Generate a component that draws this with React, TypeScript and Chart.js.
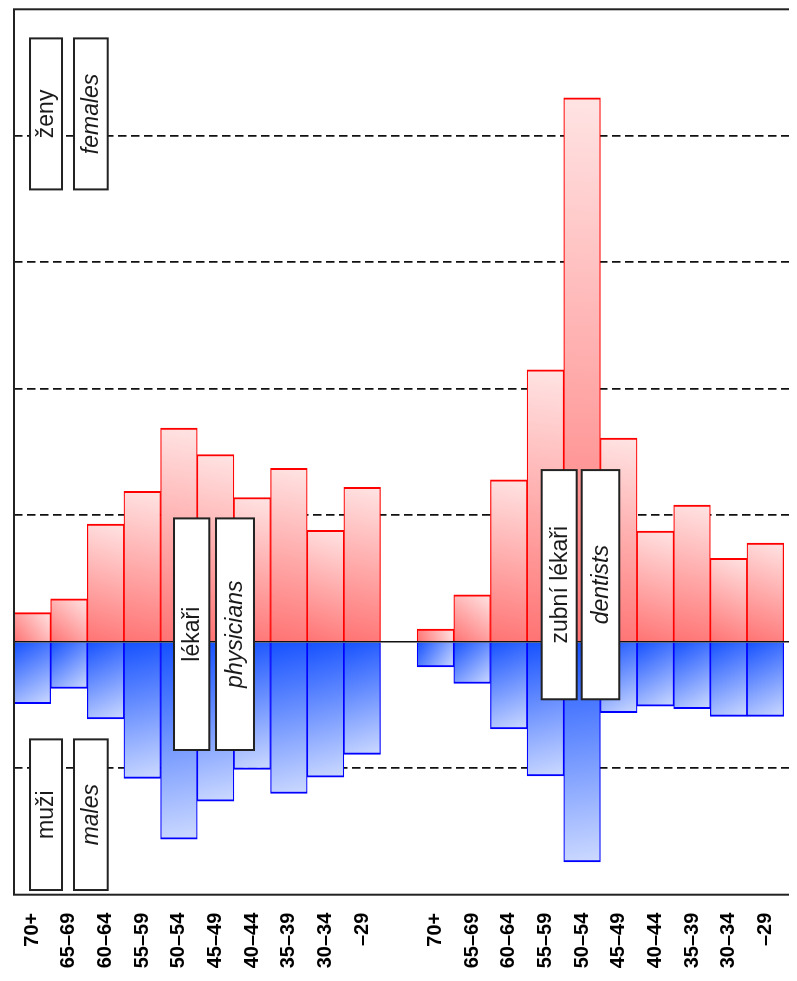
import React, { useEffect, useRef } from "react";
import { Chart, registerables } from "chart.js";

Chart.register(...registerables);

const ageGroups = ["70+", "65–69", "60–64", "55–59", "50–54", "45–49", "40–44", "35–39", "30–34", "–29"];

const physiciansFemales = [0.23, 0.34, 0.93, 1.19, 1.69, 1.48, 1.14, 1.37, 0.88, 1.22];
const physiciansMales = [-0.49, -0.37, -0.61, -1.08, -1.56, -1.26, -1.01, -1.2, -1.07, -0.89];
const dentistsFemales = [0.1, 0.37, 1.28, 2.15, 4.3, 1.61, 0.875, 1.08, 0.66, 0.78];
const dentistsMales = [-0.2, -0.33, -0.69, -1.06, -1.74, -0.56, -0.51, -0.53, -0.59, -0.59];

const yMin = -2;
const yMax = 5;

// labels placed in boxes, anchored in data units (category index, value)
const boxLabels = [
  { text: "ženy", italic: false, x0: -0.063, x1: 0.81, y0: 4.77, y1: 3.576 },
  { text: "females", italic: true, x0: 1.137, x1: 2.057, y0: 4.77, y1: 3.576 },
  { text: "muži", italic: false, x0: -0.063, x1: 0.81, y0: -0.772, y1: -1.963 },
  { text: "males", italic: true, x0: 1.137, x1: 2.057, y0: -0.772, y1: -1.963 },
  { text: "lékaři", italic: false, x0: 3.866, x1: 4.829, y0: 0.975, y1: -0.856 },
  { text: "physicians", italic: true, x0: 5.012, x1: 6.048, y0: 0.975, y1: -0.856 },
  { text: "zubní lékaři", italic: false, x0: 13.898, x1: 14.853, y0: 1.357, y1: -0.455 },
  { text: "dentists", italic: true, x0: 14.99, x1: 16.015, y0: 1.357, y1: -0.455 },
];

const labels = [...ageGroups, "", ...ageGroups, ""];
const femalesData = [...physiciansFemales, null, ...dentistsFemales, null];
const malesData = [...physiciansMales, null, ...dentistsMales, null];

function gradientFor(dark: string, light: string) {
  return (ctx: any) => {
    const chart = ctx.chart;
    const xs = chart.scales?.x;
    const ys = chart.scales?.y;
    const v = ctx.raw;
    if (!xs || !ys || !chart.chartArea || v == null) return dark;
    const i = ctx.dataIndex;
    const left = xs.getPixelForValue(i - 0.5);
    const right = xs.getPixelForValue(i + 0.5);
    const base = ys.getPixelForValue(0);
    const end = ys.getPixelForValue(v);
    if (![left, right, base, end].every((n) => isFinite(n))) return dark;
    const g = chart.ctx.createLinearGradient(left, base, right, end);
    g.addColorStop(0, dark);
    g.addColorStop(1, light);
    return g;
  };
}

const overlayPlugin = {
  id: "overlay",
  afterDatasetsDraw(chart: any) {
    const { ctx, chartArea } = chart;
    const xs = chart.scales.x;
    const ys = chart.scales.y;
    ctx.save();
    // zero line
    const zy = ys.getPixelForValue(0);
    ctx.strokeStyle = "#111";
    ctx.lineWidth = 1.7;
    ctx.beginPath();
    ctx.moveTo(chartArea.left, zy);
    ctx.lineTo(chartArea.right, zy);
    ctx.stroke();
    // frame
    ctx.lineWidth = 2;
    ctx.strokeStyle = "#222";
    ctx.strokeRect(chartArea.left, chartArea.top, chartArea.right - chartArea.left, chartArea.bottom - chartArea.top);
    // boxes
    for (const b of boxLabels) {
      const l = xs.getPixelForValue(b.x0);
      const r = xs.getPixelForValue(b.x1);
      const t = ys.getPixelForValue(b.y0);
      const bt = ys.getPixelForValue(b.y1);
      ctx.fillStyle = "#fff";
      ctx.fillRect(l, t, r - l, bt - t);
      ctx.lineWidth = 2;
      ctx.strokeStyle = "#222";
      ctx.strokeRect(l, t, r - l, bt - t);
      ctx.save();
      ctx.translate((l + r) / 2, (t + bt) / 2);
      ctx.rotate(-Math.PI / 2);
      ctx.fillStyle = "#1a1a1a";
      ctx.font = `${b.italic ? "italic " : ""}23px "Liberation Sans", Arial, sans-serif`;
      ctx.textAlign = "center";
      ctx.textBaseline = "middle";
      ctx.fillText(b.text, 0, 1);
      ctx.restore();
    }
    ctx.restore();
  },
};

export default function App() {
  const canvasRef = useRef<HTMLCanvasElement | null>(null);

  useEffect(() => {
    if (!canvasRef.current) return;
    const chart = new Chart(canvasRef.current, {
      type: "bar",
      data: {
        labels,
        datasets: [
          {
            label: "females",
            data: femalesData,
            backgroundColor: gradientFor("rgb(255,115,115)", "rgb(255,228,228)"),
            borderColor: "#ff0000",
            borderWidth: { top: 2, bottom: 2, left: 1.2, right: 1.2 },
            borderSkipped: "start",
            categoryPercentage: 1,
            barPercentage: 1,
          },
          {
            label: "males",
            data: malesData,
            backgroundColor: gradientFor("rgb(20,80,255)", "rgb(205,218,255)"),
            borderColor: "#0000ff",
            borderWidth: { top: 2, bottom: 2, left: 1.2, right: 1.2 },
            borderSkipped: "start",
            categoryPercentage: 1,
            barPercentage: 1,
          },
        ],
      },
      options: {
        animation: false,
        responsive: true,
        maintainAspectRatio: false,
        layout: { padding: { top: 1.3, left: 6, right: 3.7, bottom: 0 } },
        plugins: {
          legend: { display: false },
          tooltip: { enabled: false },
        },
        scales: {
          x: {
            stacked: true,
            grid: { display: false, drawTicks: false },
            border: { display: false },
            ticks: {
              autoSkip: false,
              minRotation: 90,
              maxRotation: 90,
              padding: 18,
              color: "#000",
              font: { family: '"Liberation Sans", Arial, sans-serif', size: 20, weight: "bold" },
            },
            afterFit: (scale: any) => {
              scale.height = 78.3;
              scale.paddingLeft = 0;
              scale.paddingRight = 0;
            },
          },
          y: {
            stacked: true,
            min: yMin,
            max: yMax,
            ticks: { display: false, stepSize: 1 },
            border: { display: false, dash: [8.5, 4.5] },
            grid: {
              drawTicks: false,
              lineWidth: 1.7,
              color: (c: any) => {
                const v = c.tick?.value;
                return v === 0 || v === yMin || v === yMax ? "rgba(0,0,0,0)" : "#111";
              },
            },
            afterFit: (scale: any) => {
              scale.width = 0;
              scale.paddingTop = 0;
              scale.paddingBottom = 0;
            },
          },
        },
      },
      plugins: [overlayPlugin],
    });
    return () => chart.destroy();
  }, []);

  return (
    <div style={{ width: 789, overflow: "hidden" }}>
      <div style={{ position: "relative", width: 816, height: 965 }}>
        <canvas ref={canvasRef} />
      </div>
    </div>
  );
}
